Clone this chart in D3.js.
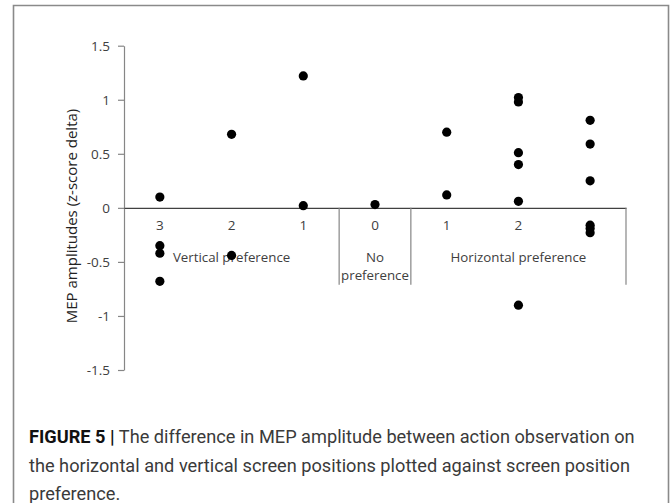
<!DOCTYPE html>
<html>
<head>
<meta charset="utf-8">
<script src="https://cdn.jsdelivr.net/npm/d3@7"></script>
<style>
  body { margin: 0; background: #fff; }
</style>
</head>
<body>
<div id="wrapper"></div>
<script>
// categories along the x axis (left to right)
const categories = ["V3", "V2", "V1", "N0", "H1", "H2", "H3"]
const tickLabels = ["3", "2", "1", "0", "1", "2", ""]

// MEP amplitude difference (z-score delta) per category
const valuesV3 = [0.10, -0.35, -0.42, -0.68]
const valuesV2 = [0.68, -0.44]
const valuesV1 = [1.22, 0.02]
const valuesN0 = [0.03]
const valuesH1 = [0.70, 0.12]
const valuesH2 = [1.02, 0.98, 0.51, 0.40, 0.06, -0.90]
const valuesH3 = [0.81, 0.59, 0.25, -0.16, -0.19, -0.23]
const seriesValues = [valuesV3, valuesV2, valuesV1, valuesN0, valuesH1, valuesH2, valuesH3]

const yTicks = [-1.5, -1, -0.5, 0, 0.5, 1, 1.5]

const groupNames = [["Vertical preference"], ["No", "preference"], ["Horizontal preference"]]
const groupFirst = ["V3", "N0", "H1"]
const groupLast = ["V1", "N0", "H3"]

const yLabel = "MEP amplitudes (z-score delta)"
const captionBold = "FIGURE 5 |"
const captionLines = [
  " The difference in MEP amplitude between action observation on",
  "the horizontal and vertical screen positions plotted against screen position",
  "preference."
]

const dataset = categories.flatMap((c, i) => seriesValues[i].map(v => ({cat: c, value: v})))

const dimensions = {
  width: 672,
  height: 503,
  margin: {top: 45.7, left: 124, right: 46}
}
dimensions.plotBottom = 370
dimensions.boundedWidth = dimensions.width - dimensions.margin.left - dimensions.margin.right

const svg = d3.select("#wrapper")
  .append("svg")
    .attr("width", dimensions.width)
    .attr("height", dimensions.height)

// outer frame (open at the bottom)
svg.append("path")
  .attr("d", d3.line()([[13.5, 503], [13.5, 5.5], [668.5, 5.5], [668.5, 503]]))
  .attr("fill", "none")
  .attr("stroke", "#8a8a8a")
  .attr("stroke-width", 1.6)

const xScale = d3.scaleBand()
  .domain(categories)
  .range([dimensions.margin.left, dimensions.margin.left + dimensions.boundedWidth])

const yScale = d3.scaleLinear()
  .domain([-1.5, 1.5])
  .range([dimensions.plotBottom, dimensions.margin.top])

const tickFont = "'Open Sans', 'Noto Sans', sans-serif"

// y axis
const yAxis = svg.append("g")
  .attr("transform", `translate(${dimensions.margin.left},0)`)
  .call(d3.axisLeft(yScale).tickValues(yTicks).tickSize(6).tickSizeOuter(0).tickPadding(8)
    .tickFormat(d => String(d)))
yAxis.select(".domain").attr("stroke", "#868686").attr("stroke-width", 1.2)
yAxis.selectAll(".tick line").attr("stroke", "#868686").attr("stroke-width", 1.2)
yAxis.selectAll(".tick text")
  .attr("fill", "#404040")
  .style("font-family", tickFont)
  .style("font-size", "13.5px")

svg.append("text")
  .attr("transform", `translate(77,216) rotate(-90)`)
  .attr("text-anchor", "middle")
  .attr("fill", "#222")
  .style("font-family", tickFont)
  .style("font-size", "15px")
  .text(yLabel)

// x axis at zero
const xAxis = svg.append("g")
  .attr("transform", `translate(0,${yScale(0)})`)
  .call(d3.axisBottom(xScale).tickSize(0).tickPadding(13)
    .tickFormat((d, i) => tickLabels[i]))
xAxis.select(".domain").attr("stroke", "#404040").attr("stroke-width", 1.2)
xAxis.selectAll(".tick text")
  .attr("fill", "#404040")
  .style("font-family", tickFont)
  .style("font-size", "13.5px")

// group dividers
const dividerX = [xScale("N0"), xScale("H1"), xScale("H3") + xScale.bandwidth()]
svg.selectAll(".divider")
  .data(dividerX)
  .enter().append("line")
    .attr("class", "divider")
    .attr("x1", d => d)
    .attr("x2", d => d)
    .attr("y1", yScale(0))
    .attr("y2", yScale(0) + 77)
    .attr("stroke", "#868686")
    .attr("stroke-width", 1.2)

// group labels
const groupText = svg.selectAll(".group")
  .data(groupNames)
  .enter().append("text")
    .attr("class", "group")
    .attr("text-anchor", "middle")
    .attr("fill", "#404040")
    .style("font-family", tickFont)
    .style("font-size", "13.3px")
    .attr("x", (d, i) => (xScale(groupFirst[i]) + xScale(groupLast[i]) + xScale.bandwidth()) / 2)
    .attr("y", yScale(0) + 54)
groupText.selectAll("tspan")
  .data(d => d)
  .enter().append("tspan")
    .attr("x", function() { return this.parentNode.getAttribute("x") })
    .attr("dy", (d, i) => i === 0 ? 0 : 18)
    .text(d => d)

// points
svg.selectAll("circle")
  .data(dataset)
  .enter().append("circle")
    .attr("cx", d => xScale(d.cat) + xScale.bandwidth() / 2)
    .attr("cy", d => yScale(d.value))
    .attr("r", 4.6)
    .attr("fill", "#000")

// caption
const captionFont = "'Roboto', 'Liberation Sans', sans-serif"
const caption = svg.append("text")
  .attr("x", 29)
  .attr("y", 443)
  .attr("fill", "#3a3a3a")
  .style("font-family", captionFont)
  .style("font-size", "18.2px")
caption.append("tspan").attr("font-weight", "bold").attr("fill", "#111").text(captionBold)
caption.append("tspan").text(captionLines[0])

svg.selectAll(".caption-line")
  .data(captionLines.slice(1))
  .enter().append("text")
    .attr("class", "caption-line")
    .attr("x", 29)
    .attr("y", (d, i) => 472 + i * 28)
    .attr("fill", "#3a3a3a")
    .style("font-family", captionFont)
    .style("font-size", "18.2px")
    .text(d => d)
</script>
</body>
</html>
